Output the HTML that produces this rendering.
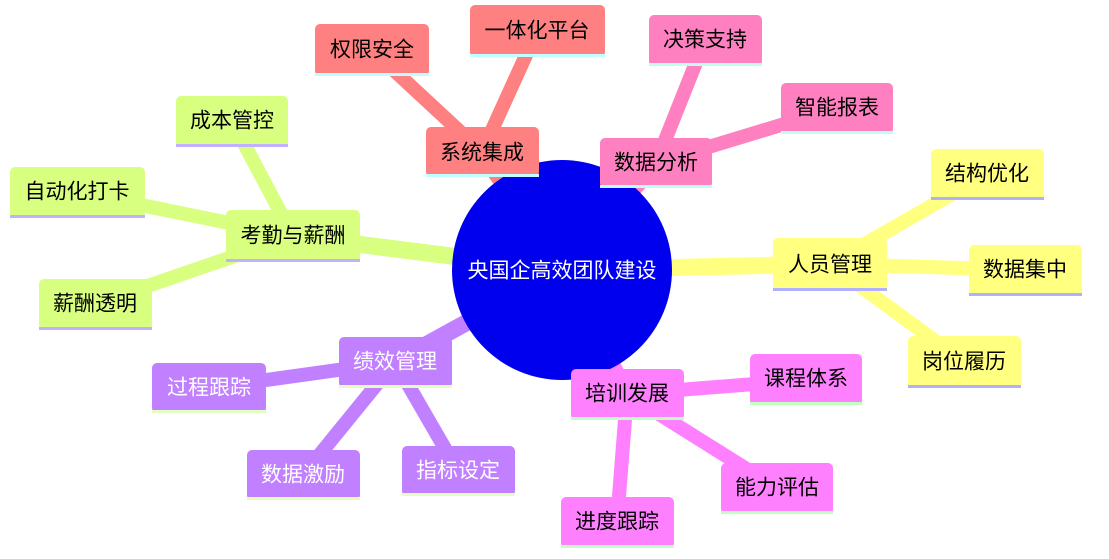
<!DOCTYPE html>
<html><head><meta charset="utf-8"><style>
html,body{margin:0;padding:0;background:#fff;}
svg{display:block;}
text{font-family:"Liberation Sans","Noto Sans CJK SC",sans-serif;font-size:21px;text-anchor:middle;dominant-baseline:central;}
</style></head><body>
<svg width="1109" height="559" viewBox="0 0 1109 559" xmlns="http://www.w3.org/2000/svg">
<g stroke-linecap="butt">
<line x1="562" y1="270" x2="482" y2="152" stroke="#ff8080" stroke-width="17"/>
<line x1="562" y1="270" x2="656" y2="163" stroke="#ff80c0" stroke-width="17"/>
<line x1="562" y1="270" x2="830" y2="264" stroke="#ffff80" stroke-width="17"/>
<line x1="562" y1="270" x2="627" y2="394" stroke="#ff80ff" stroke-width="17"/>
<line x1="562" y1="270" x2="395" y2="362" stroke="#c080ff" stroke-width="17"/>
<line x1="562" y1="270" x2="293" y2="236" stroke="#d8ff80" stroke-width="17"/>
<line x1="482" y1="152" x2="372" y2="50" stroke="#ff8080" stroke-width="14"/>
<line x1="482" y1="152" x2="537" y2="31" stroke="#ff8080" stroke-width="14"/>
<line x1="656" y1="163" x2="705" y2="40" stroke="#ff80c0" stroke-width="14"/>
<line x1="656" y1="163" x2="837" y2="108" stroke="#ff80c0" stroke-width="14"/>
<line x1="830" y1="264" x2="987" y2="174" stroke="#ffff80" stroke-width="14"/>
<line x1="830" y1="264" x2="1025" y2="270" stroke="#ffff80" stroke-width="14"/>
<line x1="830" y1="264" x2="964" y2="362" stroke="#ffff80" stroke-width="14"/>
<line x1="627" y1="394" x2="806" y2="380" stroke="#ff80ff" stroke-width="14"/>
<line x1="627" y1="394" x2="777" y2="488" stroke="#ff80ff" stroke-width="14"/>
<line x1="627" y1="394" x2="617" y2="522" stroke="#ff80ff" stroke-width="14"/>
<line x1="395" y1="362" x2="209" y2="388" stroke="#c080ff" stroke-width="14"/>
<line x1="395" y1="362" x2="303" y2="475" stroke="#c080ff" stroke-width="14"/>
<line x1="395" y1="362" x2="458" y2="471" stroke="#c080ff" stroke-width="14"/>
<line x1="293" y1="236" x2="232" y2="121" stroke="#d8ff80" stroke-width="14"/>
<line x1="293" y1="236" x2="77" y2="192" stroke="#d8ff80" stroke-width="14"/>
<line x1="293" y1="236" x2="95" y2="304" stroke="#d8ff80" stroke-width="14"/>
</g>
<circle cx="562" cy="270" r="110" fill="#0000ee"/>
<text x="562" y="271" fill="#fff">央国企高效团队建设</text>
<g>
<rect x="426" y="127" width="113" height="50" rx="5" fill="#ff8080"/><rect x="426" y="174" width="113" height="3" fill="#c0ffff"/><text x="482" y="153">系统集成</text>
<rect x="315" y="24" width="114" height="52" rx="5" fill="#ff8080"/><rect x="315" y="73" width="114" height="3" fill="#c0ffff"/><text x="372" y="50">权限安全</text>
<rect x="470" y="5" width="135" height="52" rx="5" fill="#ff8080"/><rect x="470" y="54" width="135" height="3" fill="#c0ffff"/><text x="537" y="31">一体化平台</text>
<rect x="600" y="138" width="112" height="50" rx="5" fill="#ff80c0"/><rect x="600" y="185" width="112" height="3" fill="#c0fff0"/><text x="656" y="163">数据分析</text>
<rect x="649" y="15" width="113" height="51" rx="5" fill="#ff80c0"/><rect x="649" y="63" width="113" height="3" fill="#c0fff0"/><text x="705" y="40">决策支持</text>
<rect x="781" y="83" width="112" height="51" rx="5" fill="#ff80c0"/><rect x="781" y="131" width="112" height="3" fill="#c0fff0"/><text x="837" y="108">智能报表</text>
<rect x="773" y="238" width="114" height="53" rx="5" fill="#ffff80"/><rect x="773" y="288" width="114" height="3" fill="#b0b0ff"/><text x="830" y="265">人员管理</text>
<rect x="931" y="149" width="113" height="51" rx="5" fill="#ffff80"/><rect x="931" y="197" width="113" height="3" fill="#b0b0ff"/><text x="987" y="174">结构优化</text>
<rect x="969" y="245" width="113" height="51" rx="5" fill="#ffff80"/><rect x="969" y="293" width="113" height="3" fill="#b0b0ff"/><text x="1025" y="270">数据集中</text>
<rect x="908" y="336" width="113" height="52" rx="5" fill="#ffff80"/><rect x="908" y="385" width="113" height="3" fill="#b0b0ff"/><text x="964" y="362">岗位履历</text>
<rect x="571" y="369" width="113" height="51" rx="5" fill="#ff80ff"/><rect x="571" y="417" width="113" height="3" fill="#c0ffc0"/><text x="627" y="394">培训发展</text>
<rect x="750" y="354" width="112" height="51" rx="5" fill="#ff80ff"/><rect x="750" y="402" width="112" height="3" fill="#c0ffc0"/><text x="806" y="379">课程体系</text>
<rect x="721" y="463" width="112" height="51" rx="5" fill="#ff80ff"/><rect x="721" y="511" width="112" height="3" fill="#c0ffc0"/><text x="777" y="488">能力评估</text>
<rect x="561" y="497" width="113" height="51" rx="5" fill="#ff80ff"/><rect x="561" y="545" width="113" height="3" fill="#c0ffc0"/><text x="617" y="522">进度跟踪</text>
<rect x="339" y="337" width="113" height="51" rx="5" fill="#c080ff"/><rect x="339" y="385" width="113" height="3" fill="#e0ffc0"/><text x="395" y="362" fill="#fff">绩效管理</text>
<rect x="152" y="363" width="114" height="50" rx="5" fill="#c080ff"/><rect x="152" y="410" width="114" height="3" fill="#e0ffc0"/><text x="209" y="388" fill="#fff">过程跟踪</text>
<rect x="247" y="450" width="113" height="50" rx="5" fill="#c080ff"/><rect x="247" y="497" width="113" height="3" fill="#e0ffc0"/><text x="303" y="475" fill="#fff">数据激励</text>
<rect x="402" y="446" width="113" height="50" rx="5" fill="#c080ff"/><rect x="402" y="493" width="113" height="3" fill="#e0ffc0"/><text x="458" y="471" fill="#fff">指标设定</text>
<rect x="226" y="210" width="134" height="52" rx="5" fill="#d8ff80"/><rect x="226" y="259" width="134" height="3" fill="#c0b0ff"/><text x="293" y="236">考勤与薪酬</text>
<rect x="176" y="96" width="112" height="51" rx="5" fill="#d8ff80"/><rect x="176" y="144" width="112" height="3" fill="#c0b0ff"/><text x="232" y="121">成本管控</text>
<rect x="10" y="167" width="135" height="51" rx="5" fill="#d8ff80"/><rect x="10" y="215" width="135" height="3" fill="#c0b0ff"/><text x="77" y="192">自动化打卡</text>
<rect x="39" y="279" width="113" height="51" rx="5" fill="#d8ff80"/><rect x="39" y="327" width="113" height="3" fill="#c0b0ff"/><text x="95" y="304">薪酬透明</text>
</g>
</svg>
</body></html>
